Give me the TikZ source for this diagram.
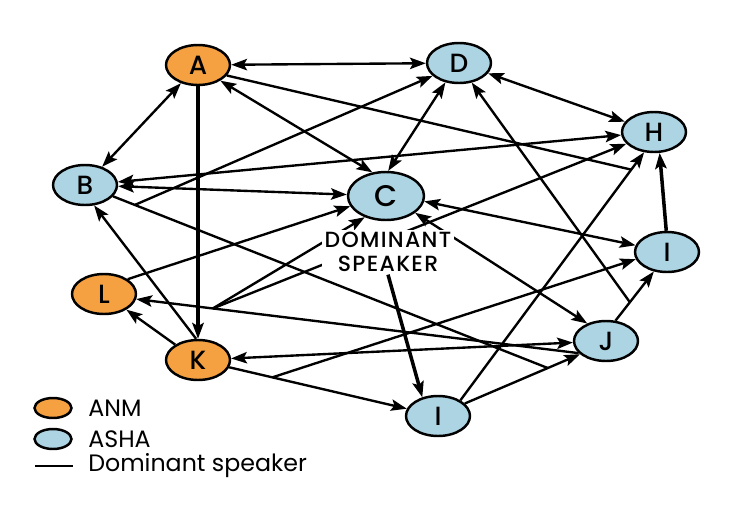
\documentclass[tikz,border=0pt]{standalone}
\usepackage{fontspec}
\setmainfont{Poppins}[BoldFont={Poppins Medium}]
\usetikzlibrary{arrows.meta,shapes.geometric}

\definecolor{anmorange}{HTML}{F5A142}
\definecolor{ashablue}{HTML}{ADD4E2}

\begin{document}
\begin{tikzpicture}[
    x=0.02cm, y=-0.02cm,
    >={Stealth[length=9pt,width=6.5pt,inset=1.8pt]},
    member/.style={ellipse, draw, line width=1.4pt, minimum width=1.28cm, minimum height=0.8cm, inner sep=0pt, font=\fontsize{15}{15}\selectfont\bfseries},
    anm/.style={member, fill=anmorange},
    asha/.style={member, fill=ashablue},
    ln/.style={line width=1.35pt},
    arr/.style={->, ln},
    darr/.style={<->, ln},
    thk/.style={line width=2pt},
    keybox/.style={ellipse, draw, line width=1.4pt, minimum width=0.74cm, minimum height=0.4cm, inner sep=0pt},
    keytext/.style={anchor=west, inner sep=0pt, font=\fontsize{13.5}{15}\selectfont}
]
\useasboundingbox (0,0) rectangle (750,507);

% members
\node[anm] (A) at (198,65) {A};
\node[asha] (D) at (459,63) {D};
\node[asha] (H) at (654,132) {H};
\node[asha] (B) at (85,185) {B};
\node[asha, minimum width=1.52cm, minimum height=0.96cm, font=\fontsize{17}{17}\selectfont\bfseries] (C) at (386,196) {C};
\node[asha] (Ir) at (667,252) {I};
\node[anm] (L) at (104,294) {L};
\node[asha] (J) at (606,341) {J};
\node[anm] (K) at (198,360) {K};
\node[asha] (Ib) at (438,416) {I};

% two-way links
\draw[darr] (A) -- (D);
\draw[darr] (A) -- (B);
\draw[darr] (A.-35) -- (C.120);
\draw[darr] (B) -- (C);
\draw[darr] (B) -- (H);
\draw[darr] (D) -- (H);
\draw[darr] (C.85) -- (D.235);
\draw[darr] (C.-8) -- (Ir.168);
\draw[darr] (C.-30) -- (J.137);
\draw[darr] (K) -- (J);

% one-way links
\draw[arr, thk] (A) -- (K);
\draw[arr] (K.95) -- (B.-66);
\draw[arr] (K.146) -- (L.-35);
\draw[arr] (L.32) -- (C.196);
\draw[arr] (J.204) -- (L.-9) coordinate[pos=0.827] (jl);
\draw[arr] (jl) -- (C.225);
\draw[arr] (jl) -- (H.203);
\draw[arr] (K) -- (Ib) coordinate[pos=0.243] (ki);
\draw[arr] (ki) -- (Ir.193);
\draw[arr] (J.65) -- (Ir.236) coordinate[pos=0.375] (ji);
\draw[arr] (ji) -- (D.-57);
\draw[arr] (Ib.25) -- (J.207) coordinate[pos=0.72] (ij);
\draw[arr] (Ib.35) -- (H.244) coordinate[pos=0.93] (ih);
\draw[ln] (A.-20) -- (ih);
\draw[ln] (B.-22) -- (ij) coordinate[pos=0.05] (bj);
\draw[arr] (bj) -- (D.206);
\draw[arr, thk] (Ir.92) -- (H.-75);

% label
\node[fill=white, inner sep=1.5pt, align=center, font=\fontsize{12.5}{13.5}\selectfont\bfseries\addfontfeature{LetterSpace=6}] (dom) at (388,252) {DOMINANT\\SPEAKER};
\draw[arr, thk] (dom.south) -- (Ib.130);

% legend
\node[keybox, fill=anmorange] (keyanm) at (53,408) {};
\node[keytext] (txtanm) at (88,408) {ANM};
\node[keybox, fill=ashablue] (keyasha) at (53,439) {};
\node[keytext] (txtasha) at (88,439) {ASHA};
\draw[line width=1.4pt] (35,466) -- (73,466);
\node[keytext] (txtdom) at (88,466) {Dominant speaker};
\end{tikzpicture}
\end{document}
